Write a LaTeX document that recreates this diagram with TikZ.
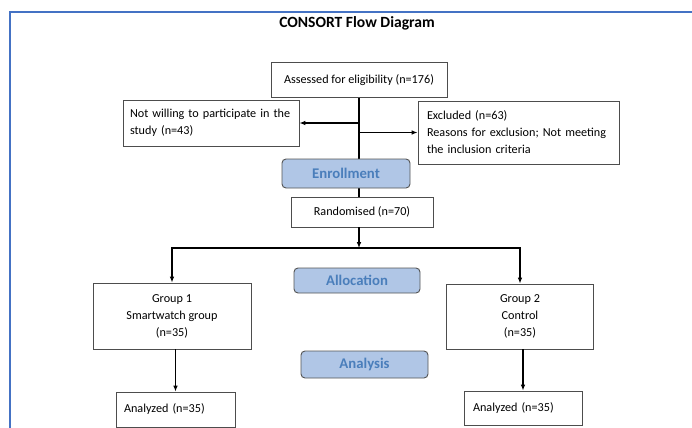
\documentclass[tikz,border=0pt]{standalone}
\usepackage{fontspec}
\setmainfont{Carlito}
\usetikzlibrary{arrows.meta}

\definecolor{frameblue}{HTML}{4472C4}
\definecolor{boxgray}{HTML}{4D4D4D}
\definecolor{stagefill}{HTML}{B0C6E6}
\definecolor{stagetext}{HTML}{4A7EBB}
\definecolor{stageedge}{HTML}{555555}

\begin{document}
\begin{tikzpicture}[
  x=0.3mm, y=-0.3mm,
  >={Latex[length=5pt,width=4pt]},
  every node/.style={font=\fontsize{10.4}{14.5}\selectfont},
  box/.style={rectangle, draw=boxgray, line width=0.8pt, fill=white, align=center},
  leftbox/.style={box, align=left},
  stage/.style={rectangle, rounded corners=1.2mm, draw=stageedge, line width=0.8pt,
                fill=stagefill, text=stagetext,
                font=\fontsize{12.6}{15}\selectfont\bfseries},
  msg/.style={->, line width=1pt},
  link/.style={line width=1pt}
]

\def\axisX{359}
\def\leftX{172}
\def\rightX{520}

\useasboundingbox (0,0) rectangle (692,427);
\draw[frameblue, line width=1.5pt] (700,12) -- (10,12) -- (10,440);

\node[font=\fontsize{13.3}{16}\selectfont\bfseries] (title) at (357,23) {CONSORT Flow Diagram};

\node[box, minimum width=52.8mm, minimum height=10.5mm] (assess) at (\axisX,80)
     {Assessed for eligibility (n=176)};
\node[leftbox, text width=48.6mm, inner xsep=2.1mm, minimum height=13.8mm] (notwill) at (211,123)
     {Not willing to participate in the\\study (n=43)};
\node[leftbox, text width=54.9mm, inner xsep=2.7mm, minimum height=18.9mm] (excl) at (518.5,132.5)
     {Excluded (n=63)\\Reasons for exclusion; Not meeting\\the inclusion criteria};
\node[box, minimum width=42.6mm, minimum height=9mm] (random) at (362,212) {Randomised (n=70)};

\node[box, minimum width=47.4mm, minimum height=19.8mm] (g1) at (\leftX,316)
     {Group 1\\Smartwatch group\\(n=35)};
\node[box, minimum width=44.1mm, minimum height=19.5mm] (g2) at (\rightX,316.5)
     {Group 2\\Control\\(n=35)};
\node[leftbox, text width=30.9mm, inner xsep=2.4mm, minimum height=10.5mm] (an1) at (175.5,409.5)
     {Analyzed (n=35)};
\node[leftbox, text width=30mm, inner xsep=2.7mm, minimum height=10.2mm] (an2) at (523,408)
     {Analyzed (n=35)};

\node[stage, minimum width=37.8mm, minimum height=7.5mm] (alloc) at (357,280.5) {Allocation};
\node[stage, minimum width=38.1mm, minimum height=8.1mm] (analysis) at (364.5,364.5) {Analysis};

% eligibility
\draw[link] (assess.south) -- (assess.south |- random.north);
\draw[msg] (assess.south |- notwill.east) -- (notwill.east);
\draw[msg] (assess.south |- excl.west) -- (excl.west);

\node[stage, minimum width=38.4mm, minimum height=8.7mm] (enroll) at (346,173.5) {Enrollment};

% allocation
\coordinate (split) at (\axisX,248);
\draw[msg] (random.south -| split) -- (split);
\draw[msg] (split) -| (g1.north);
\draw[msg] (split) -| (g2.north);

% analysis
\draw[msg] (g1.south -| an1.north) -- (an1.north);
\draw[msg] (g2.south -| an2.north) -- (an2.north);

\end{tikzpicture}
\end{document}
